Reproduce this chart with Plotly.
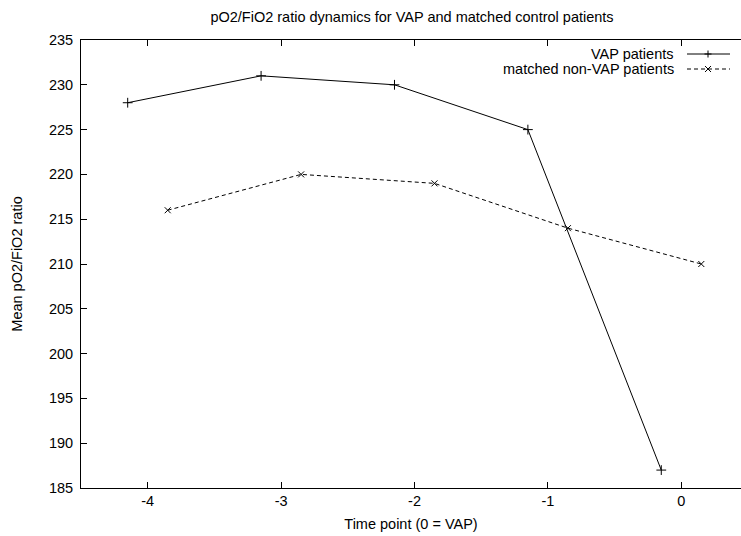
import plotly.graph_objects as go

# Data
vap_x = [-4.15, -3.15, -2.15, -1.15, -0.15]
vap_y = [228, 231, 230, 225, 187]
ctrl_x = [-3.85, -2.85, -1.85, -0.85, 0.15]
ctrl_y = [216, 220, 219, 214, 210]
series_names = ["VAP patients", "matched non-VAP patients"]
x_ticks = [-4, -3, -2, -1, 0]
y_ticks = [185, 190, 195, 200, 205, 210, 215, 220, 225, 230, 235]

W, H = 741, 536
ML, MR, MT, MB = 81, 0, 40, 48
FONT = "Liberation Sans, Arial, Helvetica, sans-serif"
FS = 14.5

fig = go.Figure()
fig.add_trace(go.Scatter(
    x=vap_x, y=vap_y, mode="lines+markers", name=series_names[0],
    line=dict(color="black", width=1),
    marker=dict(symbol="cross-thin", size=7, line=dict(color="black", width=1)),
    showlegend=False))
fig.add_trace(go.Scatter(
    x=ctrl_x, y=ctrl_y, mode="lines+markers", name=series_names[1],
    line=dict(color="black", width=1, dash="4px,3px"),
    marker=dict(symbol="x-thin", size=6, line=dict(color="black", width=1)),
    showlegend=False))

# custom gnuplot-style legend (text right-aligned, sample to the right)
pw = W - ML - MR
ph = H - MT - MB
def px(xpix):
    return (xpix - ML) / pw
def py(ypix):
    return 1 - (ypix - MT) / ph

shapes = []
annotations = []
rows = [(54, "solid", "+"), (69, "dash", "x")]
for name, (ry, dash, sym) in zip(series_names, rows):
    annotations.append(dict(x=px(676), y=py(ry), xref="paper", yref="paper",
                            text=name, showarrow=False, xanchor="right", yanchor="middle",
                            font=dict(family=FONT, size=FS, color="black")))
    shapes.append(dict(type="line", xref="paper", yref="paper",
                       x0=px(687), x1=px(730), y0=py(ry), y1=py(ry),
                       line=dict(color="black", width=1, dash="solid" if dash == "solid" else "4px,3px")))
    cx, cy = 708, ry
    if sym == "+":
        shapes.append(dict(type="line", xref="paper", yref="paper", x0=px(cx-3.5), x1=px(cx+3.5),
                           y0=py(cy), y1=py(cy), line=dict(color="black", width=1)))
        shapes.append(dict(type="line", xref="paper", yref="paper", x0=px(cx), x1=px(cx),
                           y0=py(cy-3.5), y1=py(cy+3.5), line=dict(color="black", width=1)))
    else:
        shapes.append(dict(type="line", xref="paper", yref="paper", x0=px(cx-3), x1=px(cx+3),
                           y0=py(cy-3), y1=py(cy+3), line=dict(color="black", width=1)))
        shapes.append(dict(type="line", xref="paper", yref="paper", x0=px(cx-3), x1=px(cx+3),
                           y0=py(cy+3), y1=py(cy-3), line=dict(color="black", width=1)))

fig.update_layout(
    width=W, height=H, autosize=False,
    margin=dict(l=ML, r=MR, t=MT, b=MB, pad=0),
    paper_bgcolor="white", plot_bgcolor="white",
    font=dict(family=FONT, size=FS, color="black"),
    title=dict(text="pO2/FiO2 ratio dynamics for VAP and matched control patients",
               x=412 / W, xanchor="center", y=1 - 17 / H, yanchor="middle",
               font=dict(family=FONT, size=FS, color="black")),
    xaxis=dict(range=[-4.5, 0.4476], tickvals=x_ticks, ticktext=[str(v) for v in x_ticks],
               ticks="inside", ticklen=6, tickwidth=1, tickcolor="black",
               showline=True, linecolor="black", linewidth=1, mirror="ticks",
               showgrid=False, zeroline=False,
               title=dict(text="Time point (0 = VAP)", standoff=10,
                          font=dict(family=FONT, size=FS))),
    yaxis=dict(range=[185, 235], tickvals=y_ticks, ticks="inside", ticklen=6, tickwidth=1,
               tickcolor="black", showline=True, linecolor="black", linewidth=1, mirror=False,
               showgrid=False, zeroline=False, ticklabelstandoff=4,
               title=dict(text="Mean pO2/FiO2 ratio", standoff=22,
                          font=dict(family=FONT, size=FS))),
    shapes=shapes, annotations=annotations,
)

fig.write_html("out.html")
